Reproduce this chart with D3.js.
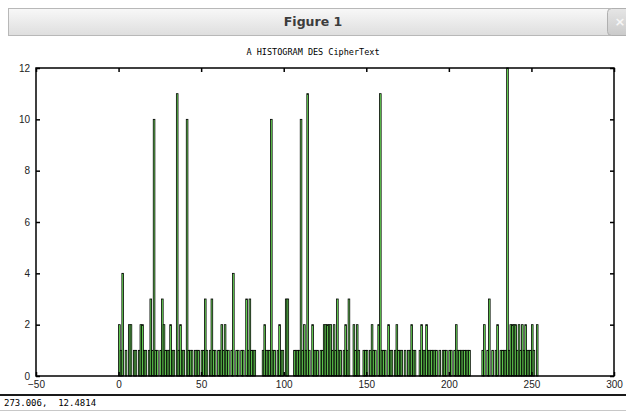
<!DOCTYPE html>
<html>
<head>
<meta charset="utf-8">
<script src="https://cdn.jsdelivr.net/npm/d3@7"></script>
<style>
  body { margin: 0; background: #fff; }
  svg { display: block; }
</style>
</head>
<body>
<div id="container"></div>
<script>
// histogram counts for byte values 0..253
const counts = [
  2, 1, 4, 0, 1, 0, 2, 2, 0, 1, 1, 0, 1, 2, 2, 1, 1, 0, 1, 3,
  1, 10, 1, 1, 0, 1, 3, 2, 1, 1, 1, 2, 1, 1, 0, 11, 1, 2, 1, 1,
  0, 10, 1, 1, 1, 0, 1, 1, 1, 0, 1, 1, 3, 1, 0, 1, 3, 1, 1, 0,
  1, 1, 2, 1, 2, 1, 1, 0, 1, 4, 0, 1, 1, 0, 1, 1, 0, 3, 1, 3,
  1, 1, 1, 0, 0, 0, 0, 1, 2, 1, 1, 1, 10, 1, 1, 0, 1, 2, 1, 1,
  0, 3, 3, 0, 0, 0, 1, 1, 1, 1, 10, 1, 2, 1, 11, 1, 0, 2, 1, 1,
  1, 0, 1, 1, 2, 2, 2, 2, 2, 1, 2, 1, 3, 1, 1, 0, 1, 2, 1, 3,
  0, 0, 2, 1, 2, 1, 0, 0, 1, 1, 1, 0, 1, 2, 1, 1, 0, 2, 11, 1,
  1, 1, 0, 2, 1, 1, 0, 1, 2, 1, 1, 1, 0, 1, 0, 1, 1, 2, 1, 1,
  0, 0, 1, 2, 1, 1, 2, 1, 1, 1, 1, 1, 1, 0, 1, 0, 1, 1, 1, 0,
  1, 1, 0, 1, 2, 1, 1, 1, 1, 1, 1, 1, 1, 0, 0, 0, 0, 0, 0, 0,
  1, 2, 0, 1, 3, 0, 1, 0, 1, 2, 0, 1, 1, 1, 1, 12, 1, 2, 2, 2,
  2, 1, 2, 1, 2, 1, 2, 1, 1, 1, 2, 1, 0, 2
];
const xTicks = [-50, 0, 50, 100, 150, 200, 250, 300];
const yTicks = [0, 2, 4, 6, 8, 10, 12];
const windowTitle = 'Figure 1';
const plotTitle = 'A HISTOGRAM DES CipherText';
const statusText = '273.006,  12.4814';

const w = 626;
const h = 411;
const box = { left: 36, right: 614, top: 68, bottom: 376 };

const svg = d3.select('#container')
  .append('svg')
  .attr('width', w)
  .attr('height', h);

// window chrome
const defs = svg.append('defs');
const grad = defs.append('linearGradient')
  .attr('id', 'bar-grad')
  .attr('x1', 0).attr('y1', 0).attr('x2', 0).attr('y2', 1);
grad.append('stop').attr('offset', '0%').attr('stop-color', '#f8f8f8');
grad.append('stop').attr('offset', '100%').attr('stop-color', '#dedede');
const grad2 = defs.append('linearGradient')
  .attr('id', 'close-grad')
  .attr('x1', 0).attr('y1', 0).attr('x2', 0).attr('y2', 1);
grad2.append('stop').attr('offset', '0%').attr('stop-color', '#e6e6e6');
grad2.append('stop').attr('offset', '100%').attr('stop-color', '#cacaca');

svg.append('rect')
  .attr('x', 8.5).attr('y', 8.5).attr('width', 620).attr('height', 27)
  .attr('fill', 'url(#bar-grad)')
  .attr('stroke', '#b8b8b8');
svg.append('rect')
  .attr('x', 607.5).attr('y', 8.5).attr('width', 30).attr('height', 27)
  .attr('rx', 4)
  .attr('fill', 'url(#close-grad)')
  .attr('stroke', '#b0b0b0');
svg.append('text')
  .attr('x', 620).attr('y', 26)
  .attr('text-anchor', 'middle')
  .style('font', 'bold 13px "DejaVu Sans"')
  .attr('fill', '#f6f6f6')
  .text('×');
svg.append('text')
  .attr('x', 313).attr('y', 26)
  .attr('text-anchor', 'middle')
  .style('font', 'bold 12.5px "DejaVu Sans"')
  .attr('fill', '#3c3c3c')
  .text(windowTitle);

// plot
const xScale = d3.scaleLinear().domain([-50, 300]).range([box.left, box.right]);
const yScale = d3.scaleLinear().domain([0, 12]).range([box.bottom, box.top]);

svg.append('text')
  .attr('x', 313).attr('y', 55)
  .attr('text-anchor', 'middle')
  .style('font', '8.5px "DejaVu Sans Mono"')
  .attr('fill', '#000')
  .text(plotTitle);

svg.append('g')
  .selectAll('rect')
  .data(counts.map((c, i) => ({ bin: i, count: c })).filter(d => d.count > 0))
  .enter()
  .append('rect')
  .attr('x', d => xScale(d.bin))
  .attr('y', d => yScale(d.count))
  .attr('width', xScale(1) - xScale(0))
  .attr('height', d => yScale(0) - yScale(d.count))
  .attr('fill', '#74f060')
  .attr('stroke', '#000')
  .attr('stroke-width', 0.8);

const tickFont = '10px "Liberation Sans"';

const xAxis = svg.append('g')
  .attr('transform', `translate(0,${box.bottom})`)
  .call(d3.axisBottom(xScale).tickValues(xTicks).tickSize(-4).tickPadding(5));
const xTop = svg.append('g')
  .attr('transform', `translate(0,${box.top})`)
  .call(d3.axisTop(xScale).tickValues(xTicks).tickSize(-4).tickFormat(''));
const yAxis = svg.append('g')
  .attr('transform', `translate(${box.left},0)`)
  .call(d3.axisLeft(yScale).tickValues(yTicks).tickSize(-4).tickPadding(6));
const yRight = svg.append('g')
  .attr('transform', `translate(${box.right},0)`)
  .call(d3.axisRight(yScale).tickValues(yTicks).tickSize(-4).tickFormat(''));

[xAxis, xTop, yAxis, yRight].forEach(g => {
  g.select('.domain').remove();
  g.selectAll('.tick line').attr('stroke', '#000').attr('stroke-width', 1.5);
  g.selectAll('.tick text').style('font', tickFont).attr('fill', '#222');
});
xAxis.selectAll('.tick text').text(d => String(d).replace('-', '\u2212'));

svg.append('rect')
  .attr('x', box.left).attr('y', box.top)
  .attr('width', box.right - box.left)
  .attr('height', box.bottom - box.top)
  .attr('fill', 'none')
  .attr('stroke', '#000')
  .attr('stroke-width', 1.5);

// status bar
svg.append('line')
  .attr('x1', 0).attr('x2', w).attr('y1', 395).attr('y2', 395)
  .attr('stroke', '#1a1a1a').attr('stroke-width', 2);
svg.append('line')
  .attr('x1', 0).attr('x2', w).attr('y1', 410.5).attr('y2', 410.5)
  .attr('stroke', '#c8c8c8').attr('stroke-width', 1);
svg.append('text')
  .attr('x', 4).attr('y', 406)
  .style('font', '9px "DejaVu Sans Mono"')
  .style('white-space', 'pre')
  .attr('fill', '#000')
  .text(statusText);
</script>
</body>
</html>
